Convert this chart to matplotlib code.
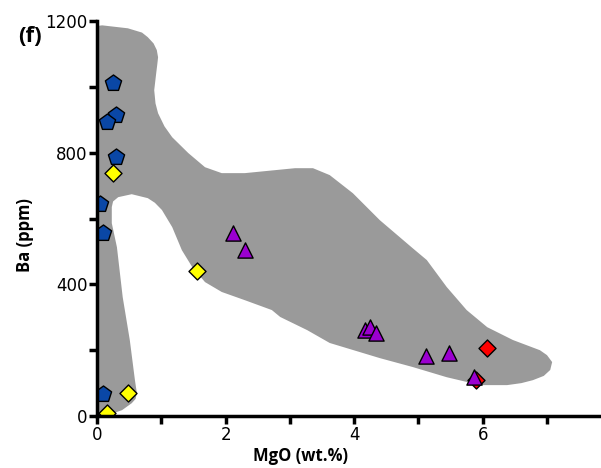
import numpy as np
import matplotlib
matplotlib.use("Agg")
import matplotlib.pyplot as plt
from matplotlib.ticker import MultipleLocator

plt.rcParams['font.family'] = ['DejaVu Sans']

# outline of the grey field (MgO wt.%, Ba ppm)
field_mgo = [0.0, 0.08, 0.48, 0.70, 0.79, 0.88, 0.93, 0.95, 0.94, 0.92, 0.89, 0.91, 0.95,
             1.05, 1.17, 1.42, 1.68, 1.94, 2.30, 3.08, 3.36, 3.62, 3.98, 4.40, 4.91,
             5.13, 5.44, 5.75, 6.07, 6.47, 6.89, 7.00, 7.08, 7.05, 6.95, 6.78, 6.60,
             6.38, 5.96, 5.44, 4.91, 4.40, 3.62, 3.27, 2.85, 2.72, 2.30, 1.94, 1.68,
             1.48, 1.32, 1.17, 1.01, 0.90, 0.79, 0.54, 0.33, 0.25, 0.23, 0.23, 0.31,
             0.40, 0.51, 0.59, 0.62, 0.60, 0.54, 0.39, 0.17, 0.0]
field_ba = [1185, 1187, 1178, 1165, 1151, 1132, 1112, 1090, 1072, 1040, 990, 950, 920,
            880, 847, 799, 756, 738, 738, 753, 753, 732, 677, 595, 510,
            474, 392, 322, 270, 231, 200, 185, 164, 140, 122, 109, 100,
            94, 94, 118, 149, 176, 222, 261, 301, 322, 352, 377, 407,
            453, 504, 574, 626, 648, 662, 674, 665, 652, 635, 586, 513,
            361, 231, 109, 70, 52, 39, 18, 3, 0]

# samples
blue_mgo = [0.25, 0.30, 0.16, 0.30, 0.05, 0.10, 0.10]
blue_ba = [1012, 915, 894, 787, 644, 556, 67]

yellow_mgo = [0.25, 1.55, 0.48, 0.15]
yellow_ba = [739, 441, 70, 9]

red_mgo = [6.06, 5.89]
red_ba = [207, 110]

purple_mgo = [2.12, 2.30, 4.17, 4.25, 4.34, 5.12, 5.47, 5.86]
purple_ba = [556, 505, 261, 270, 252, 182, 191, 118]

fig = plt.figure(figsize=(6.01, 4.68), dpi=100)
ax = fig.add_axes([0.1614, 0.111, 0.8386, 0.844])

ax.fill(field_mgo, field_ba, color='#9a9a9a', lw=0, zorder=1)

ax.scatter(blue_mgo, blue_ba, marker='p', s=150, c='#0a47a6', edgecolors='black', linewidths=1, zorder=3)
ax.scatter(yellow_mgo, yellow_ba, marker='D', s=75, c='#ffff00', edgecolors='black', linewidths=1, zorder=3)
ax.scatter(red_mgo, red_ba, marker='D', s=75, c='#ff0000', edgecolors='black', linewidths=1, zorder=3)
ax.scatter(purple_mgo, purple_ba, marker='^', s=120, c='#9b00d0', edgecolors='black', linewidths=1, zorder=4)

ax.set_xlim(0, 7.84)
ax.set_ylim(0, 1200)

for side in ['top', 'right']:
    ax.spines[side].set_visible(False)
for side in ['left', 'bottom']:
    ax.spines[side].set_linewidth(2.5)
    ax.spines[side].set_zorder(5)

ax.xaxis.set_major_locator(MultipleLocator(2))
ax.xaxis.set_minor_locator(MultipleLocator(1))
ax.yaxis.set_major_locator(MultipleLocator(400))
ax.yaxis.set_minor_locator(MultipleLocator(200))
ax.tick_params(which='both', direction='out', length=6, width=2.5, labelsize=12, pad=1)

lab_font = dict(fontsize=12, fontweight='bold', family=['Open Sans', 'DejaVu Sans'])
ax.set_xlabel('MgO (wt.%)', **lab_font)
ax.set_ylabel('Ba (ppm)', **lab_font)
ax.xaxis.set_label_coords(0.403, -0.078)
ax.yaxis.set_label_coords(-0.125, 0.458)

fig.text(0.05, 0.923, '(f)', fontsize=16, fontweight='bold', ha='center', va='center',
         family=['Open Sans', 'DejaVu Sans'])

fig.savefig('out.png', dpi=100)
